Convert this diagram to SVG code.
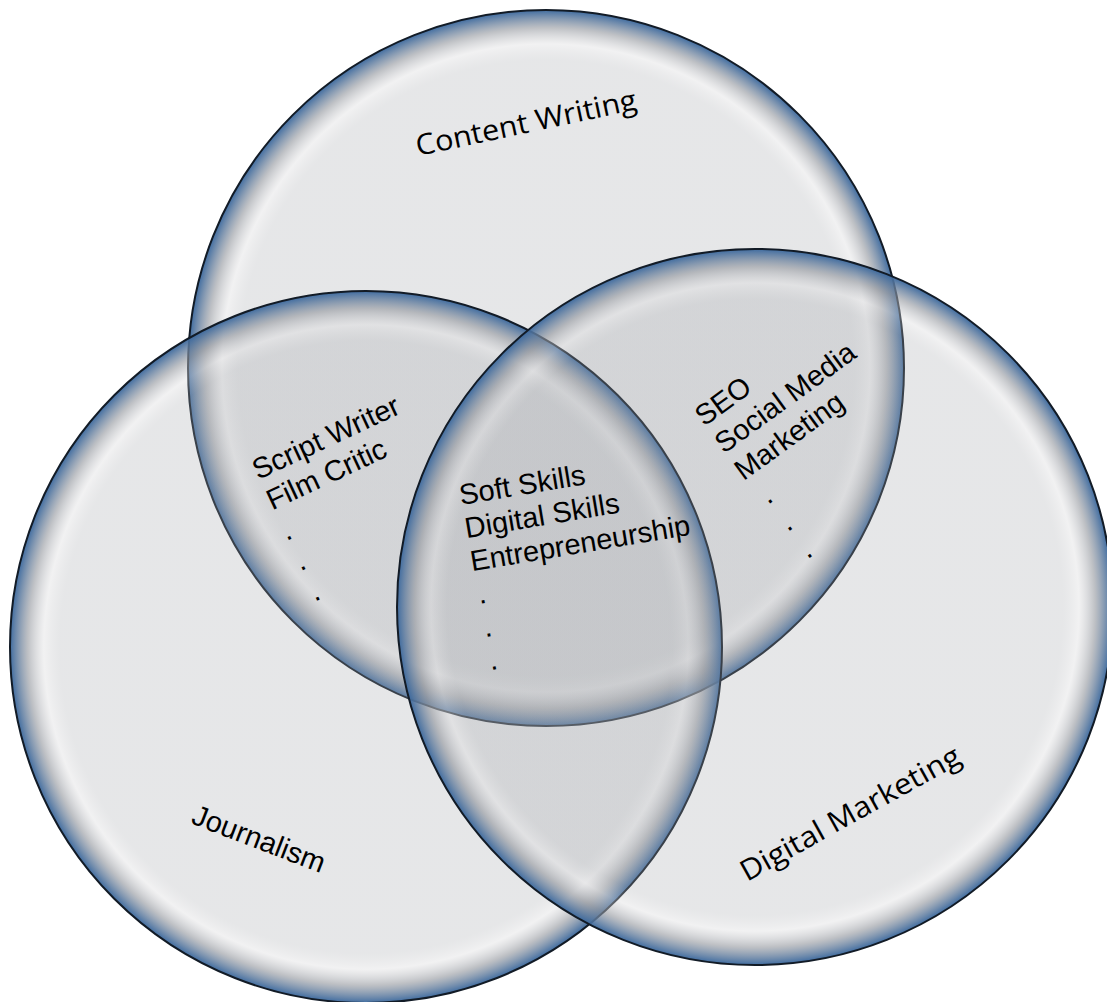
<svg xmlns="http://www.w3.org/2000/svg" width="1107" height="1002" viewBox="0 0 1107 1002">
<defs>
<radialGradient id="rim" cx="50%" cy="50%" r="50%">
<stop offset="0" stop-color="#a2a5aa" stop-opacity="0.27"/>
<stop offset="0.86" stop-color="#a2a5aa" stop-opacity="0.27"/>
<stop offset="0.905" stop-color="#d8d8da" stop-opacity="0.35"/>
<stop offset="0.95" stop-color="#93979e" stop-opacity="0.6"/>
<stop offset="1" stop-color="#3a689e" stop-opacity="0.97"/>
</radialGradient>
</defs>
<style>
.c{fill:url(#rim);stroke:#121b26;stroke-width:2}
.big{font-family:"Open Sans","Noto Sans",sans-serif;font-size:29px;fill:#000}
.arial{font-family:"Liberation Sans",Arial,sans-serif;font-size:29px;fill:#000}
</style>
<g id="content-writing">
<circle class="c" cx="546" cy="368" r="358"/>
</g>
<g id="journalism">
<circle class="c" cx="366" cy="647" r="356"/>
</g>
<g id="digital-marketing">
<circle class="c" cx="755" cy="607" r="358"/>
</g>
<g id="connectors"></g>
<g id="labels">
<text class="big" transform="translate(418,156) rotate(-12)" textLength="225" lengthAdjust="spacingAndGlyphs">Content Writing</text>
<text class="arial" transform="translate(190,823) rotate(21)">Journalism</text>
<text class="big" transform="translate(747,882) rotate(-29)" textLength="247" lengthAdjust="spacingAndGlyphs">Digital Marketing</text>
<g transform="translate(258,480) rotate(-25)">
<text class="arial" x="0" y="0">Script Writer</text>
<text class="arial" x="0" y="33.6">Film Critic</text>
<text class="arial" x="0" y="67.2">.</text>
<text class="arial" x="0" y="100.8">.</text>
<text class="arial" x="0" y="134.4">.</text>
</g>
<g transform="translate(461,505) rotate(-9.5)">
<text class="arial" x="0" y="0">Soft Skills</text>
<text class="arial" x="0" y="33.6">Digital Skills</text>
<text class="arial" x="0" y="67.2">Entrepreneurship</text>
<text class="arial" x="2" y="100.8">.</text>
<text class="arial" x="2" y="134.4">.</text>
<text class="arial" x="2" y="168">.</text>
</g>
<g transform="translate(704,427) rotate(-36)">
<text class="arial" x="0" y="0">SEO</text>
<text class="arial" x="0" y="33.6">Social Media</text>
<text class="arial" x="0" y="67.2">Marketing</text>
<text class="arial" x="6" y="100.8">.</text>
<text class="arial" x="6" y="134.4">.</text>
<text class="arial" x="6" y="168">.</text>
</g>
</g>
</svg>
